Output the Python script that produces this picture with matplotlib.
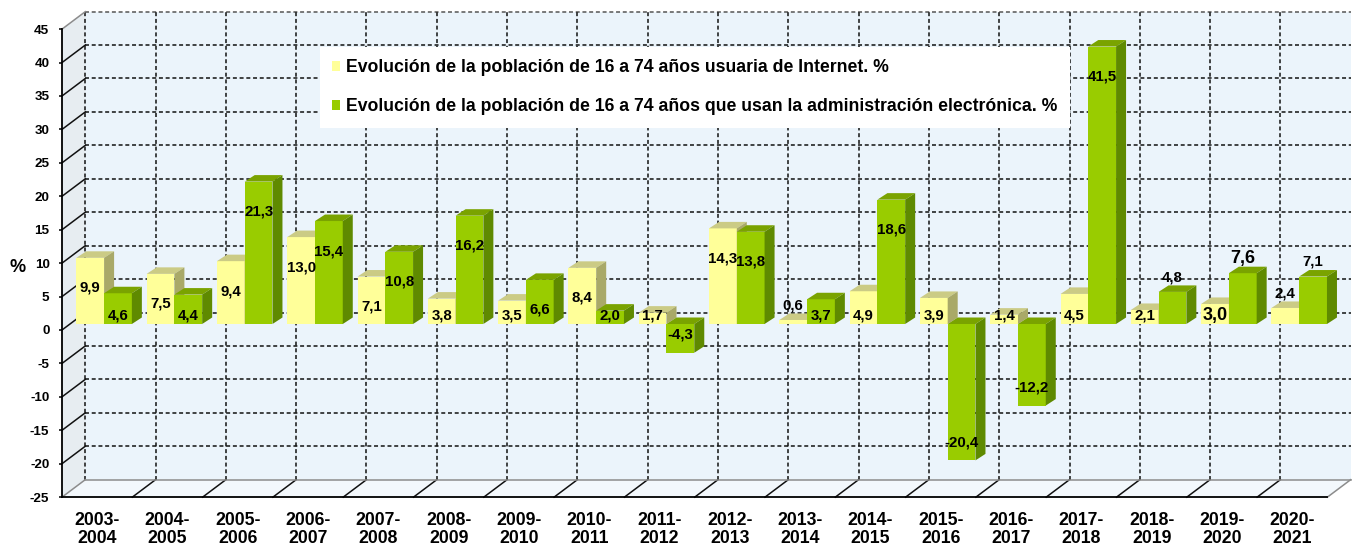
"""Evolución de usuarios de Internet y de administración electrónica (barras 3D)."""

import matplotlib

matplotlib.use("Agg")
import matplotlib.pyplot as plt
from matplotlib.patches import Patch, Polygon

plt.rcParams["font.family"] = ["Liberation Sans", "DejaVu Sans"]
plt.rcParams["font.weight"] = "bold"

# --- data ---
periods = [
    "2003-\n2004", "2004-\n2005", "2005-\n2006", "2006-\n2007", "2007-\n2008",
    "2008-\n2009", "2009-\n2010", "2010-\n2011", "2011-\n2012", "2012-\n2013",
    "2013-\n2014", "2014-\n2015", "2015-\n2016", "2016-\n2017", "2017-\n2018",
    "2018-\n2019", "2019-\n2020", "2020-\n2021",
]
internet = [9.9, 7.5, 9.4, 13.0, 7.1, 3.8, 3.5, 8.4, 1.7, 14.3, 0.6, 4.9, 3.9, 1.4, 4.5, 2.1, 3.0, 2.4]
egov = [4.6, 4.4, 21.3, 15.4, 10.8, 16.2, 6.6, 2.0, -4.3, 13.8, 3.7, 18.6, -20.4, -12.2, 41.5, 4.8, 7.6, 7.1]
y_ticks = [-25, -20, -15, -10, -5, 0, 5, 10, 15, 20, 25, 30, 35, 40, 45]
legend_labels = [
    "Evolución de la población de 16 a 74 años usuaria de Internet. %",
    "Evolución de la población de 16 a 74 años que usan la administración electrónica. %",
]

# labels that Excel put above the bar instead of inside it
above_internet = {10, 17}
above_egov = {15, 16, 17}
big_label = {16}

# --- colours ---
YELLOW = ("#FFFF99", "#CBCB85", "#A9A968")
GREEN = ("#99CC00", "#7AA300", "#5F8A00")
BACK_WALL = "#EBF4FB"
SIDE_WALL = "#E7EDF1"
FLOOR = "#F3F8FC"

# --- oblique projection (front plane in category/value units) ---
W, H = 1352, 550
X0, CAT = 62, 70.3
ZERO, UNIT = 330, 6.686
WALL = (23.3 / CAT, 17.5 / UNIT)
BAR_OFF = (8 / CAT, 6 / UNIT)
BAR_DEPTH = (10 / CAT, 6.5 / UNIT)
BAR_W = 0.395
BAR_START = 0.09
N = len(periods)
YMIN, YMAX = y_ticks[0], y_ticks[-1]

fig = plt.figure(figsize=(W / 100, H / 100), dpi=100)
ax = fig.add_axes([0, 0, 1, 1])
ax.set_xlim(-X0 / CAT, (W - X0) / CAT)
ax.set_ylim((ZERO - H) / UNIT, ZERO / UNIT)

dxw, dyw = WALL

# walls and floor
ax.add_patch(Polygon([(dxw, YMIN + dyw), (N + dxw, YMIN + dyw), (N + dxw, YMAX + dyw), (dxw, YMAX + dyw)],
                     closed=True, facecolor=BACK_WALL, edgecolor="none", zorder=0))
ax.add_patch(Polygon([(0, YMIN), (dxw, YMIN + dyw), (dxw, YMAX + dyw), (0, YMAX)],
                     closed=True, facecolor=SIDE_WALL, edgecolor="none", zorder=0))
ax.add_patch(Polygon([(0, YMIN), (N, YMIN), (N + dxw, YMIN + dyw), (dxw, YMIN + dyw)],
                     closed=True, facecolor=FLOOR, edgecolor="none", zorder=0))

dash = (0, (2.6, 1.8))
for v in y_ticks[1:]:
    ax.plot([dxw, N + dxw], [v + dyw, v + dyw], color="#111111" if v < YMAX else "#555555",
            lw=1.1, ls=dash, zorder=1)
    if v < YMAX:
        ax.plot([0, dxw], [v, v + dyw], color="#111111", lw=1.1, zorder=1)
for k in range(N):
    ax.plot([k + dxw, k + dxw], [YMIN + dyw, YMAX + dyw], color="#111111", lw=1.1, ls=dash, zorder=1)
for k in range(1, N):
    ax.plot([k, k + dxw], [YMIN, YMIN + dyw], color="#111111", lw=1.1, zorder=1)
edge = dict(color="#8C8C8C", lw=1.1, zorder=1)
ax.plot([0, dxw], [YMAX, YMAX + dyw], **edge)
ax.plot([0, dxw], [YMIN, YMIN + dyw], **edge)
ax.plot([N, N + dxw], [YMIN, YMIN + dyw], **edge)
ax.plot([dxw, N + dxw], [YMIN + dyw, YMIN + dyw], **edge)


def draw_bar(x, value, colours, z):
    front, top, side = colours
    bx = x + BAR_OFF[0]
    hi = max(value, 0) + BAR_OFF[1]
    lo = min(value, 0) + BAR_OFF[1]
    ddx, ddy = BAR_DEPTH
    ax.add_patch(Polygon([(bx, lo), (bx + BAR_W, lo), (bx + BAR_W, hi), (bx, hi)],
                         closed=True, facecolor=front, edgecolor="none", zorder=z))
    ax.add_patch(Polygon([(bx, hi), (bx + BAR_W, hi), (bx + BAR_W + ddx, hi + ddy), (bx + ddx, hi + ddy)],
                         closed=True, facecolor=top, edgecolor="none", zorder=z))
    ax.add_patch(Polygon([(bx + BAR_W, lo), (bx + BAR_W + ddx, lo + ddy), (bx + BAR_W + ddx, hi + ddy),
                          (bx + BAR_W, hi)], closed=True, facecolor=side, edgecolor="none", zorder=z))


def label_y(value, above):
    if above:
        return value + 2.2 + BAR_OFF[1]
    if value < 0:
        return value + 2.7 + BAR_OFF[1]
    return max(value - 4.5, 1.2) + BAR_OFF[1]


z = 3
for k in range(N):
    for j, (vals, colours, above) in enumerate(
        [(internet, YELLOW, above_internet), (egov, GREEN, above_egov)]
    ):
        x = k + BAR_START + j * BAR_W
        draw_bar(x, vals[k], colours, z)
        z += 1
for k in range(N):
    for j, (vals, above) in enumerate([(internet, above_internet), (egov, above_egov)]):
        x = k + BAR_START + j * BAR_W + BAR_OFF[0] + BAR_W / 2
        txt = f"{vals[k]:.1f}".replace(".", ",")
        ax.text(x, label_y(vals[k], k in above), txt, ha="center", va="center",
                fontsize=13 if k in big_label else 10.8, fontweight="bold", zorder=200)

# axes: front value axis and category axis
for s in ("top", "right"):
    ax.spines[s].set_visible(False)
ax.spines["left"].set_position(("data", 0))
ax.spines["left"].set_bounds(YMIN, YMAX)
ax.spines["bottom"].set_position(("data", YMIN))
ax.spines["bottom"].set_bounds(0, N)
for s in ("left", "bottom"):
    ax.spines[s].set_linewidth(1.3)
    ax.spines[s].set_zorder(2)
ax.set_yticks(y_ticks)
ax.set_yticklabels([str(t) for t in y_ticks])
ax.tick_params(axis="y", direction="out", length=2.5, width=1.1, pad=6.5, labelsize=9.7)
ax.set_xticks([k + 0.5 for k in range(N)])
ax.set_xticklabels(periods, fontsize=12.7, fontweight="bold", linespacing=1.05)
ax.tick_params(axis="x", length=0, pad=11)
ax.set_ylabel("%", rotation=0, fontsize=13, fontweight="bold")
ax.yaxis.set_label_coords(18 / W, 1 - 267 / H)
ax.yaxis.label.set_va("center")
ax.yaxis.label.set_ha("center")

handles = [Patch(facecolor=YELLOW[0]), Patch(facecolor=GREEN[0])]
leg = ax.legend(handles, legend_labels, loc="upper left", bbox_to_anchor=(320 / W, 1 - 47 / H),
                bbox_transform=fig.transFigure, fontsize=12.7, frameon=True, fancybox=False,
                facecolor="white", edgecolor="none", framealpha=1, handlelength=0.45,
                handleheight=0.45, handletextpad=0.35, labelspacing=1.25, borderpad=0.7,
                borderaxespad=0)
leg.set_zorder(300)

fig.savefig("out.png", dpi=100, facecolor="white")
